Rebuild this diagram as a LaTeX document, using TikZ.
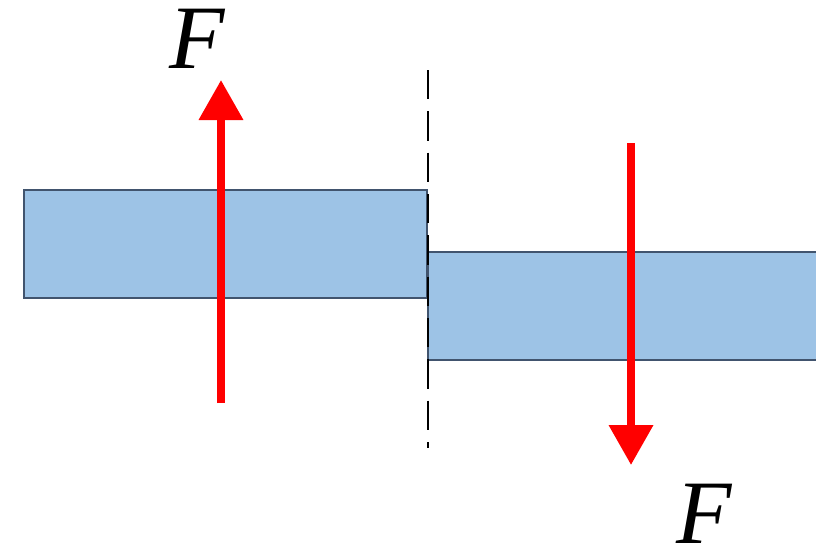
\documentclass[tikz,border=0pt]{standalone}
\usepackage{fontspec}
\setmainfont{Liberation Serif}
\usetikzlibrary{arrows.meta}
\definecolor{barfill}{HTML}{9DC3E6}
\definecolor{barline}{HTML}{41546E}
\definecolor{forcered}{HTML}{FF0000}
\begin{document}
\begin{tikzpicture}[x=0.75pt,y=-0.75pt,
  bar/.style={draw=barline,fill=barfill,line width=1.1pt},
  barfillonly/.style={fill=barfill},
  baredge/.style={draw=barline,line width=1.1pt},
  force/.style={draw=forcered,line width=6pt,-{Triangle[width=32pt,length=30pt]}},
  cutline/.style={draw=black,line width=2pt,dash pattern=on 22pt off 9pt},
  flabel/.style={font=\fontsize{68}{68}\selectfont\itshape,inner sep=0pt,text height=46pt,text depth=0pt}]
\useasboundingbox (0,0) rectangle (816,554);
% bars
\path[bar] (24,190) rectangle (427,298);
\path[barfillonly] (428,252) rectangle (816,360);
\draw[baredge] (816,252) -- (428,252) -- (428,360) -- (816,360);
% cut line
\coordinate (c1) at (428,70);
\coordinate (c2) at (428,448);
\draw[cutline] (c1) -- (c2);
% forces
\coordinate (u1) at (221,403);
\coordinate (u2) at (221,80);
\coordinate (d1) at (631,143);
\coordinate (d2) at (631,465);
\draw[force] (u1) -- (u2);
\draw[force] (d1) -- (d2);
% labels
\node[flabel] (f1) at (197,38) {F};
\node[flabel] (f2) at (704,513) {F};
\end{tikzpicture}
\end{document}
